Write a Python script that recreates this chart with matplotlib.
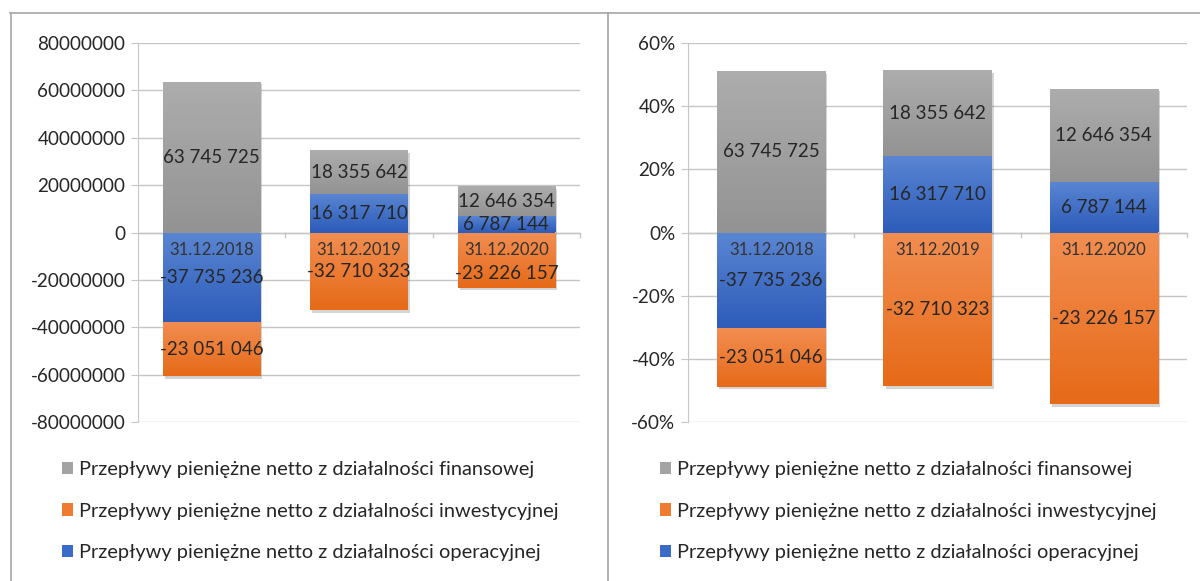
import matplotlib
matplotlib.use("Agg")
import matplotlib.pyplot as plt
import numpy as np
from matplotlib.colors import LinearSegmentedColormap
from matplotlib.lines import Line2D
from matplotlib.patches import Patch
import matplotlib.patheffects as pe

plt.rcParams['font.family'] = ['Lato', 'DejaVu Sans']

# ---- data ----
categories = ["31.12.2018", "31.12.2019", "31.12.2020"]
operacyjna = [-37735236, 16317710, 6787144]
inwestycyjna = [-23051046, -32710323, -23226157]
finansowa = [63745725, 18355642, 12646354]

series_names = [
    "Przepływy pieniężne netto z działalności operacyjnej",
    "Przepływy pieniężne netto z działalności inwestycyjnej",
    "Przepływy pieniężne netto z działalności finansowej",
]
series_values = [operacyjna, inwestycyjna, finansowa]

left_ticks = [-80000000, -60000000, -40000000, -20000000, 0, 20000000, 40000000, 60000000, 80000000]
right_ticks = [-0.6, -0.4, -0.2, 0.0, 0.2, 0.4, 0.6]

# gradient colours (top, bottom)
grads = [
    ("#5a86d2", "#2d5cba"),   # blue
    ("#f28e52", "#e66a18"),   # orange
    ("#adadad", "#939393"),   # gray
]
legend_colors = ["#3a6bc6", "#ee7b30", "#a3a3a3"]

W, H = 1200, 581
fig = plt.figure(figsize=(W / 100, H / 100), dpi=100)

def fx(px):
    return px / W

def fy(py):
    return 1 - py / H

# frame lines
frame_col = "#a6a6a6"
fig.add_artist(Line2D([fx(10), fx(1200)], [fy(12.5), fy(12.5)], color=frame_col, lw=1.2))
fig.add_artist(Line2D([fx(10.5), fx(10.5)], [fy(12.5), fy(581)], color=frame_col, lw=1.2))
fig.add_artist(Line2D([fx(607.5), fx(607.5)], [fy(12.5), fy(581)], color=frame_col, lw=1.2))

grid_col = "#c6c6c6"
text_col = "#262626"
tick_col = "#262626"


def fmt_num(v):
    return f"{v:,}".replace(",", " ")


def draw_panel(ax, values_list, ylim, yticks, yfmt, width, label_shift=None):
    label_shift = label_shift or {}
    n = len(categories)
    x = np.arange(n)
    pos = np.zeros(n)
    neg = np.zeros(n)
    totals = np.sum(np.abs(np.array(values_list, dtype=float)), axis=0)
    for si, vals in enumerate(values_list):
        vals = np.array(vals, dtype=float)
        plot_vals = vals / totals if yfmt == "pct" else vals
        bottoms = np.where(plot_vals >= 0, pos, neg)
        bars = ax.bar(x, plot_vals, width=width, bottom=bottoms, color=grads[si][1],
                      zorder=3, linewidth=0)
        cmap = LinearSegmentedColormap.from_list("g", [grads[si][1], grads[si][0]])
        grad = np.linspace(0, 1, 256).reshape(-1, 1)
        for ci, (b, rv, pv, bt) in enumerate(zip(bars, vals, plot_vals, bottoms)):
            b.set_path_effects([pe.SimplePatchShadow(offset=(1.5, -2), alpha=0.25,
                                                     shadow_rgbFace="#555555"),
                                pe.Normal()])
            x0 = b.get_x()
            x1 = x0 + b.get_width()
            y0 = min(bt, bt + pv)
            y1 = max(bt, bt + pv)
            im = ax.imshow(grad, extent=[x0, x1, y0, y1], origin="lower", cmap=cmap,
                           aspect="auto", zorder=4, interpolation="bilinear")
            im.set_clip_path(b)
            dy = label_shift.get((si, ci), 0)
            ax.annotate(fmt_num(int(rv)), xy=(b.get_x() + b.get_width() / 2, bt + pv / 2),
                        xytext=(0, dy), textcoords="offset points",
                        ha="center", va="center", fontsize=13.5, color=text_col, zorder=6)
        pos = pos + np.where(plot_vals >= 0, plot_vals, 0)
        neg = neg + np.where(plot_vals < 0, plot_vals, 0)

    ax.set_xlim(-0.5, n - 0.5)
    ax.set_ylim(*ylim)
    ax.set_yticks(yticks)
    if yfmt == "pct":
        ax.set_yticklabels([f"{int(round(t * 100))}%" for t in yticks])
    else:
        ax.set_yticklabels([str(int(t)) for t in yticks])
    ax.tick_params(axis="y", length=5, color=grid_col, labelsize=13.6, labelcolor=tick_col, pad=4)
    ax.set_xticks([])
    ax.grid(axis="y", color=grid_col, lw=1.0, zorder=0)
    for s in ["top", "right", "bottom"]:
        ax.spines[s].set_visible(False)
    ax.spines["left"].set_color(grid_col)
    ax.spines["left"].set_zorder(1)
    # category axis line at 0 with ticks
    ax.axhline(0, color=grid_col, lw=1.0, zorder=1)
    span = ylim[1] - ylim[0]
    for xb in np.arange(n) + 0.5:
        ax.plot([xb, xb], [0, -span * 0.011], color=grid_col, lw=1.0, zorder=1, clip_on=False)
    for i, c in enumerate(categories):
        ax.annotate(c, xy=(i, 0), xytext=(0, -12.5), textcoords="offset points",
                    ha="center", va="center", fontsize=12, color="#333333", zorder=7)


# left panel
axL = fig.add_axes([fx(138), fy(422), fx(580 - 138), (422 - 43) / H])
draw_panel(axL, series_values, (-80000000, 80000000), left_ticks, "abs", 0.66,
           label_shift={(1, 2): -10})

# right panel
axR = fig.add_axes([fx(688), fy(422), fx(1187 - 688), (422 - 43) / H])
draw_panel(axR, series_values, (-0.6, 0.6), right_ticks, "pct", 0.65)

# legends (reverse order)
order = [2, 1, 0]
handles = [Patch(facecolor=legend_colors[i], edgecolor="none") for i in order]
labels = [series_names[i] for i in order]
for lx in (62, 660):
    fig.legend(handles, labels, loc="upper left", bbox_to_anchor=(fx(lx), fy(461)),
               frameon=False, fontsize=14.4, handlelength=0.55, handleheight=0.55,
               handletextpad=0.3, labelspacing=1.23, borderaxespad=0, borderpad=0,
               labelcolor="#262626")

fig.savefig("out.png", dpi=100)
